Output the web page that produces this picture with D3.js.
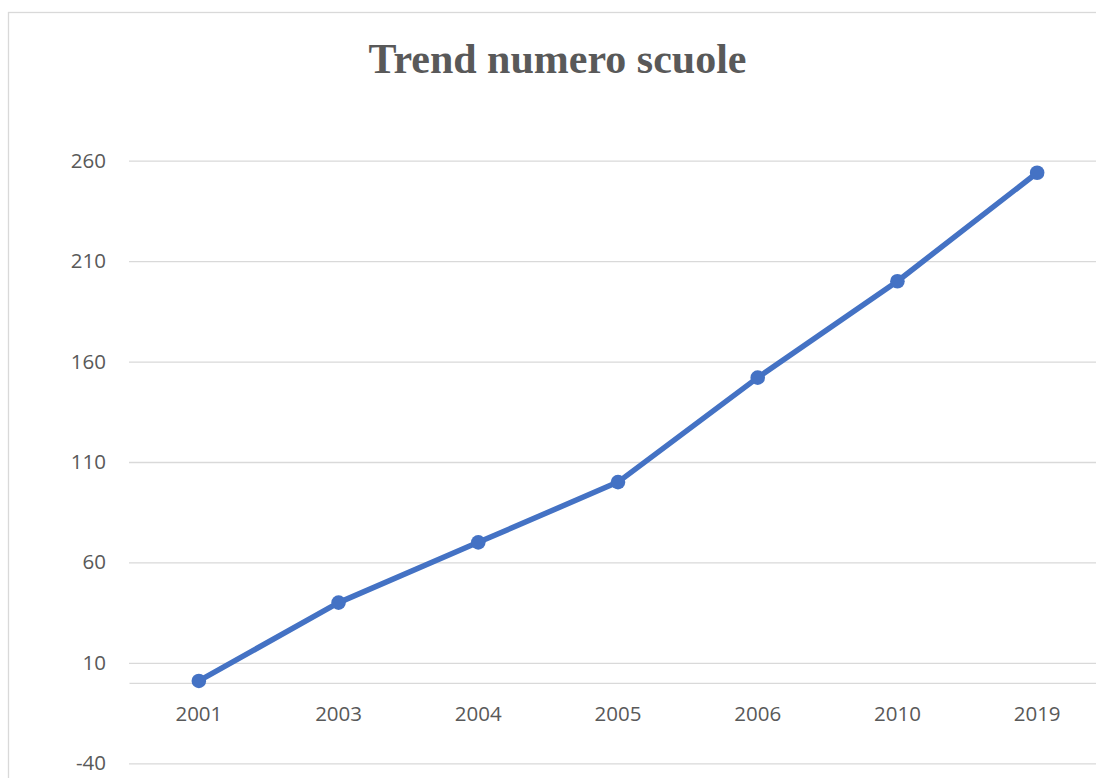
<!DOCTYPE html>
<html>
<head>
<meta charset="utf-8">
<script src="https://cdn.jsdelivr.net/npm/d3@7/dist/d3.min.js"></script>
<style>
  html, body { margin: 0; padding: 0; background: #fff; overflow: hidden; }
</style>
</head>
<body>
<svg id="chart" width="1096" height="778"></svg>
<script>
const title = "Trend numero scuole";
const categories = ["2001", "2003", "2004", "2005", "2006", "2010", "2019"];
const values = [1, 40, 70, 100, 152, 200, 254];
const yTicks = [-40, 10, 60, 110, 160, 210, 260];

const svg = d3.select("#chart");

// chart border
svg.append("rect")
  .attr("x", 8.5).attr("y", 12.5)
  .attr("width", 1100).attr("height", 800)
  .attr("fill", "#fff").attr("stroke", "#d9d9d9").attr("stroke-width", 1.3);

const plotLeft = 129, plotRight = 1107;
const x = d3.scaleBand().domain(categories).range([plotLeft, plotRight]);
const y = d3.scaleLinear().domain([-40, 260]).range([763.3, 160.7]);

// title
svg.append("text")
  .attr("x", 557.5).attr("y", 73)
  .attr("text-anchor", "middle")
  .attr("font-family", "'Liberation Serif', 'Times New Roman', serif")
  .attr("font-weight", "bold")
  .attr("font-size", 42)
  .attr("fill", "#595959")
  .text(title);

// gridlines + y labels via axis
const yAxis = d3.axisLeft(y).tickValues(yTicks)
  .tickSize(-(plotRight - plotLeft)).tickPadding(23).tickFormat(d => String(d));
const gy = svg.append("g").attr("transform", `translate(${plotLeft},0)`).call(yAxis);
gy.select(".domain").remove();
gy.selectAll(".tick line").attr("stroke", "#d9d9d9").attr("stroke-width", 1.3);
gy.selectAll(".tick text")
  .attr("font-family", "'Open Sans', sans-serif")
  .attr("font-size", 20.5)
  .attr("fill", "#595959");

// x axis at zero
const xAxis = d3.axisBottom(x).tickSize(0).tickPadding(23);
const gx = svg.append("g").attr("transform", `translate(0,${y(0)})`).call(xAxis);
gx.select(".domain").attr("stroke", "#d9d9d9").attr("stroke-width", 1.3);
gx.selectAll(".tick text")
  .attr("font-family", "'Open Sans', sans-serif")
  .attr("font-size", 20.5)
  .attr("fill", "#595959");

const cx = (d, i) => x(categories[i]) + x.bandwidth() / 2;

// line
const line = d3.line().x((d, i) => cx(d, i)).y(d => y(d));
svg.append("path")
  .datum(values)
  .attr("d", line)
  .attr("fill", "none")
  .attr("stroke", "#4472C4")
  .attr("stroke-width", 5.5)
  .attr("stroke-linejoin", "round")
  .attr("stroke-linecap", "round");

// markers
svg.selectAll("circle.pt")
  .data(values)
  .join("circle")
  .attr("class", "pt")
  .attr("cx", (d, i) => cx(d, i))
  .attr("cy", d => y(d))
  .attr("r", 7.3)
  .attr("fill", "#4472C4");
</script>
</body>
</html>
